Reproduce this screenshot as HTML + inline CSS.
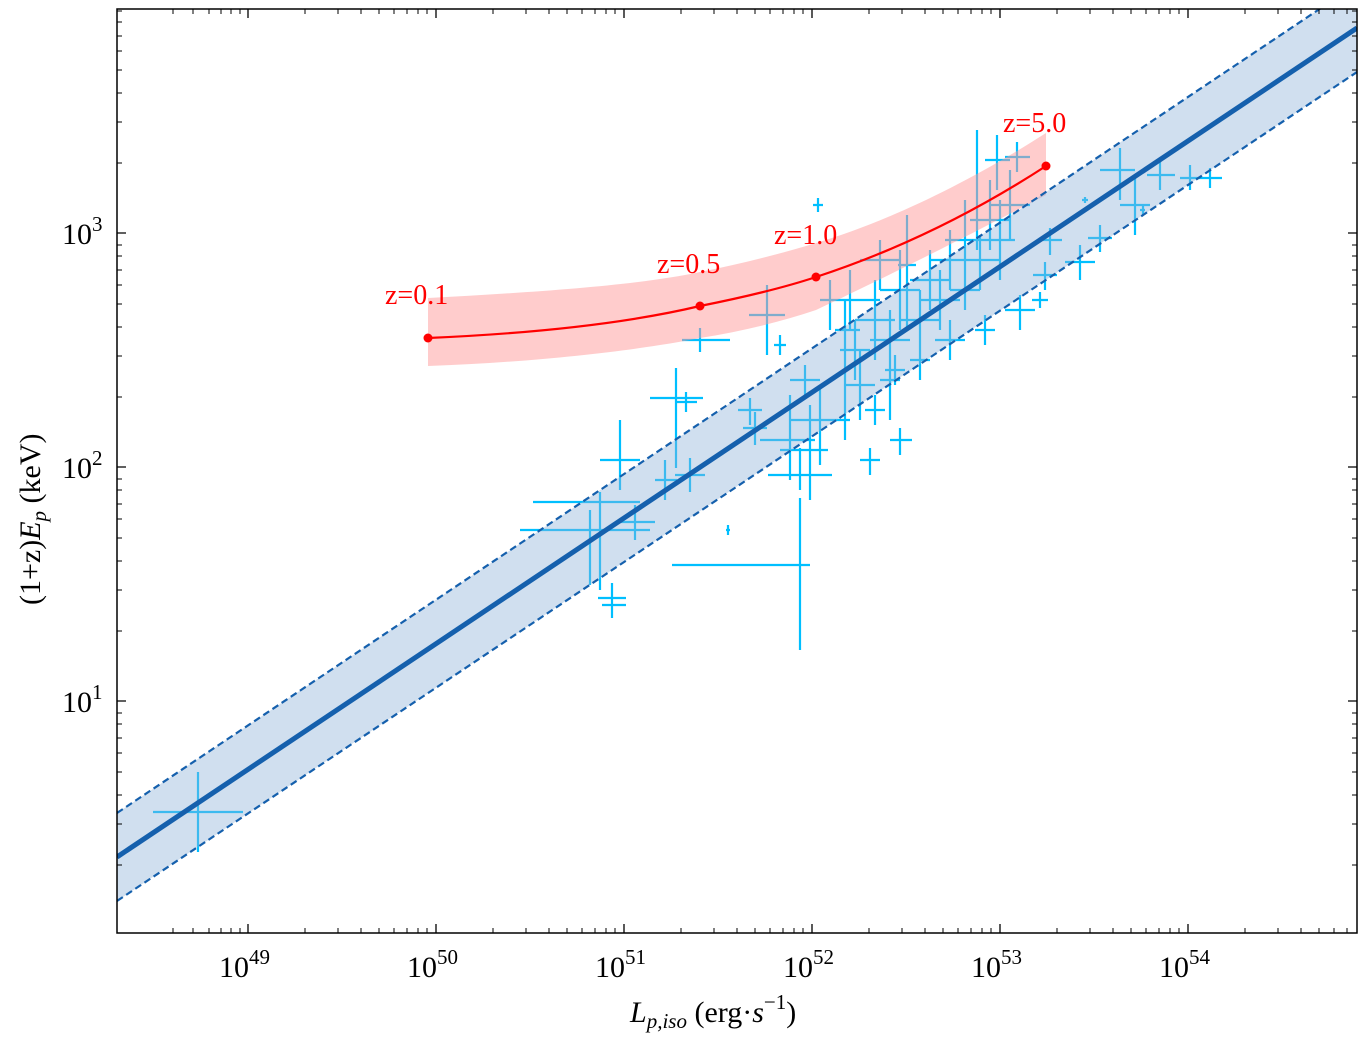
<!DOCTYPE html>
<html><head><meta charset="utf-8"><style>
html,body{margin:0;padding:0;background:#fff;}
svg text{font-family:"Liberation Serif","DejaVu Serif",serif;}
</style></head><body>
<svg width="1367" height="1043" viewBox="0 0 1367 1043" xmlns="http://www.w3.org/2000/svg">
<rect width="1367" height="1043" fill="#fff"/>
<defs><clipPath id="c"><rect x="117" y="9" width="1240" height="924"/></clipPath></defs>
<g clip-path="url(#c)">
<path fill="none" stroke="#00bfff" stroke-width="2.2" d="M153 812H243M198 772V852M598 598H626M612 583V618M533 502H640M600 492V590M520 530H650M590 510V585M600 460H640M620 420V490M620 522H655M635 505V540M655 480H677M665 460V500M650 398H703M676 368V468M676 402H697M686 392V412M675 475H705M690 458V492M682 340H730M700 328V352M672 565H810M800 498V650M726 530H730M728 525V535M738 410H762M750 398V425M743 428H767M755 412V445M749 315H785M767 285V355M774 345H786M780 335V355M760 440H815M790 395V480M768 475H832M800 448V490M790 380H820M805 365V395M780 450H828M810 405V500M790 420H850M820 385V465M830 300H880M850 270V330M840 350H870M855 320V380M845 385H875M860 350V420M855 320H895M875 280V360M865 410H885M875 395V425M860 260H900M880 240V290M870 340H910M890 310V370M880 290H920M900 250V330M885 370H905M895 355V385M900 320H940M920 290V350M910 280H950M930 250V310M910 360H930M920 340V380M920 300H960M940 270V330M930 260H970M950 230V290M935 340H965M950 320V360M945 240H985M965 200V270M950 290H980M965 270V310M960 260H1000M980 235V290M970 220H1010M990 180V250M975 330H995M985 315V345M985 240H1015M1000 200V280M990 205H1030M1010 170V240M1005 157H1030M1017 142V172M985 160H1010M997 135V190M1100 170H1135M1120 148V200M1120 205H1150M1135 175V235M1147 175H1175M1160 160V190M1180 178H1200M1190 165V190M1198 178H1222M1210 168V188M1088 238H1112M1100 225V252M1038 240H1062M1050 228V255M1065 262H1095M1080 245V280M1033 275H1057M1045 262V290M1005 310H1035M1020 295V330M1032 300H1048M1040 292V308M890 440H912M900 428V455M860 460H880M870 448V475M898 265H916M907 215V330M977 130V250M813 205H823M818 198V212M1082 200H1088M1085 197V203M1140 210H1145M1143 205V215M602 605H626M612 590V618M880 380H900M890 340V420M835 330H860M845 300V440M820 300H840M830 280V330"/>
<path fill="#ff9999" fill-opacity="0.5" d="M428 298 C540 292 640 285 700 272 C740 264 780 254 816 243 C880 224 960 188 1046 133 L1046 195 C960 240 880 280 816 310 C780 322 740 332 700 338 C640 350 540 362 428 366 Z"/>
<path fill="#8fb3d9" fill-opacity="0.42" d="M117 813 L1357 -16 L1357 72 L117 901 Z"/>
<line x1="117" y1="813" x2="1357" y2="-16" stroke="#1560ad" stroke-width="2.2" stroke-dasharray="7,4"/>
<line x1="117" y1="901" x2="1357" y2="72" stroke="#1560ad" stroke-width="2.2" stroke-dasharray="7,4"/>
<line x1="117" y1="857" x2="1357" y2="28" stroke="#1560ad" stroke-width="5"/>
<path fill="none" stroke="#ff0000" stroke-width="2.2" d="M428 338 C520 334 620 325 700 306 C740 298 780 289 816 277 C880 256 960 222 1046 166"/>
<circle cx="428" cy="338" r="4.5" fill="#ff0000"/>
<circle cx="700" cy="306" r="4.5" fill="#ff0000"/>
<circle cx="816" cy="277" r="4.5" fill="#ff0000"/>
<circle cx="1046" cy="166" r="4.5" fill="#ff0000"/>
</g>
<g fill="#ff0000" font-size="28">
<text x="385" y="304">z=0.1</text>
<text x="657" y="273">z=0.5</text>
<text x="774" y="244">z=1.0</text>
<text x="1003" y="132">z=5.0</text>
</g>
<rect x="117" y="9" width="1240" height="924" fill="none" stroke="#000" stroke-width="1.5"/>
<path stroke="#000" stroke-width="1.3" fill="none" d="M248 933v-9M436 933v-9M624 933v-9M812 933v-9M1000 933v-9M1188 933v-9M248 9v9M436 9v9M624 9v9M812 9v9M1000 9v9M1188 9v9M117 233h9M117 467h9M117 701h9M1357 233h-9M1357 467h-9M1357 701h-9"/>
<path stroke="#000" stroke-width="1" fill="none" d="M173 933v-5M193 933v-5M209 933v-5M221 933v-5M231 933v-5M240 933v-5M305 933v-5M338 933v-5M361 933v-5M379 933v-5M394 933v-5M407 933v-5M418 933v-5M427 933v-5M493 933v-5M526 933v-5M549 933v-5M567 933v-5M582 933v-5M595 933v-5M606 933v-5M615 933v-5M681 933v-5M714 933v-5M737 933v-5M755 933v-5M770 933v-5M783 933v-5M794 933v-5M803 933v-5M869 933v-5M902 933v-5M925 933v-5M943 933v-5M958 933v-5M971 933v-5M982 933v-5M991 933v-5M1057 933v-5M1090 933v-5M1113 933v-5M1131 933v-5M1146 933v-5M1159 933v-5M1170 933v-5M1179 933v-5M1245 933v-5M1278 933v-5M1301 933v-5M1319 933v-5M1334 933v-5M1347 933v-5M173 9v5M193 9v5M209 9v5M221 9v5M231 9v5M240 9v5M305 9v5M338 9v5M361 9v5M379 9v5M394 9v5M407 9v5M418 9v5M427 9v5M493 9v5M526 9v5M549 9v5M567 9v5M582 9v5M595 9v5M606 9v5M615 9v5M681 9v5M714 9v5M737 9v5M755 9v5M770 9v5M783 9v5M794 9v5M803 9v5M869 9v5M902 9v5M925 9v5M943 9v5M958 9v5M971 9v5M982 9v5M991 9v5M1057 9v5M1090 9v5M1113 9v5M1131 9v5M1146 9v5M1159 9v5M1170 9v5M1179 9v5M1245 9v5M1278 9v5M1301 9v5M1319 9v5M1334 9v5M1347 9v5M117 865h5M117 824h5M117 795h5M117 772h5M117 753h5M117 738h5M117 724h5M117 713h5M117 631h5M117 590h5M117 561h5M117 538h5M117 519h5M117 504h5M117 490h5M117 479h5M117 397h5M117 356h5M117 327h5M117 304h5M117 285h5M117 270h5M117 256h5M117 245h5M117 163h5M117 122h5M117 93h5M117 70h5M117 51h5M117 36h5M117 22h5M117 11h5M1357 865h-5M1357 824h-5M1357 795h-5M1357 772h-5M1357 753h-5M1357 738h-5M1357 724h-5M1357 713h-5M1357 631h-5M1357 590h-5M1357 561h-5M1357 538h-5M1357 519h-5M1357 504h-5M1357 490h-5M1357 479h-5M1357 397h-5M1357 356h-5M1357 327h-5M1357 304h-5M1357 285h-5M1357 270h-5M1357 256h-5M1357 245h-5M1357 163h-5M1357 122h-5M1357 93h-5M1357 70h-5M1357 51h-5M1357 36h-5M1357 22h-5M1357 11h-5"/>
<g font-size="30" fill="#000">
<text x="219" y="977">10<tspan font-size="21" dy="-13">49</tspan></text>
<text x="407" y="977">10<tspan font-size="21" dy="-13">50</tspan></text>
<text x="595" y="977">10<tspan font-size="21" dy="-13">51</tspan></text>
<text x="783" y="977">10<tspan font-size="21" dy="-13">52</tspan></text>
<text x="971" y="977">10<tspan font-size="21" dy="-13">53</tspan></text>
<text x="1159" y="977">10<tspan font-size="21" dy="-13">54</tspan></text>
<text x="62" y="244">10<tspan font-size="21" dy="-13">3</tspan></text>
<text x="62" y="478">10<tspan font-size="21" dy="-13">2</tspan></text>
<text x="62" y="712">10<tspan font-size="21" dy="-13">1</tspan></text>
<text x="630" y="1022"><tspan font-style="italic">L</tspan><tspan font-size="21" dy="6" font-style="italic">p,iso</tspan><tspan dy="-6"> (erg·</tspan><tspan font-style="italic">s</tspan><tspan font-size="21" dy="-13">−1</tspan><tspan dy="13">)</tspan></text>
<text transform="translate(40,605) rotate(-90)">(1+z)<tspan font-style="italic">E</tspan><tspan font-size="21" dy="6" font-style="italic">p</tspan><tspan dy="-6"> (keV)</tspan></text>
</g>
</svg>
</body></html>
